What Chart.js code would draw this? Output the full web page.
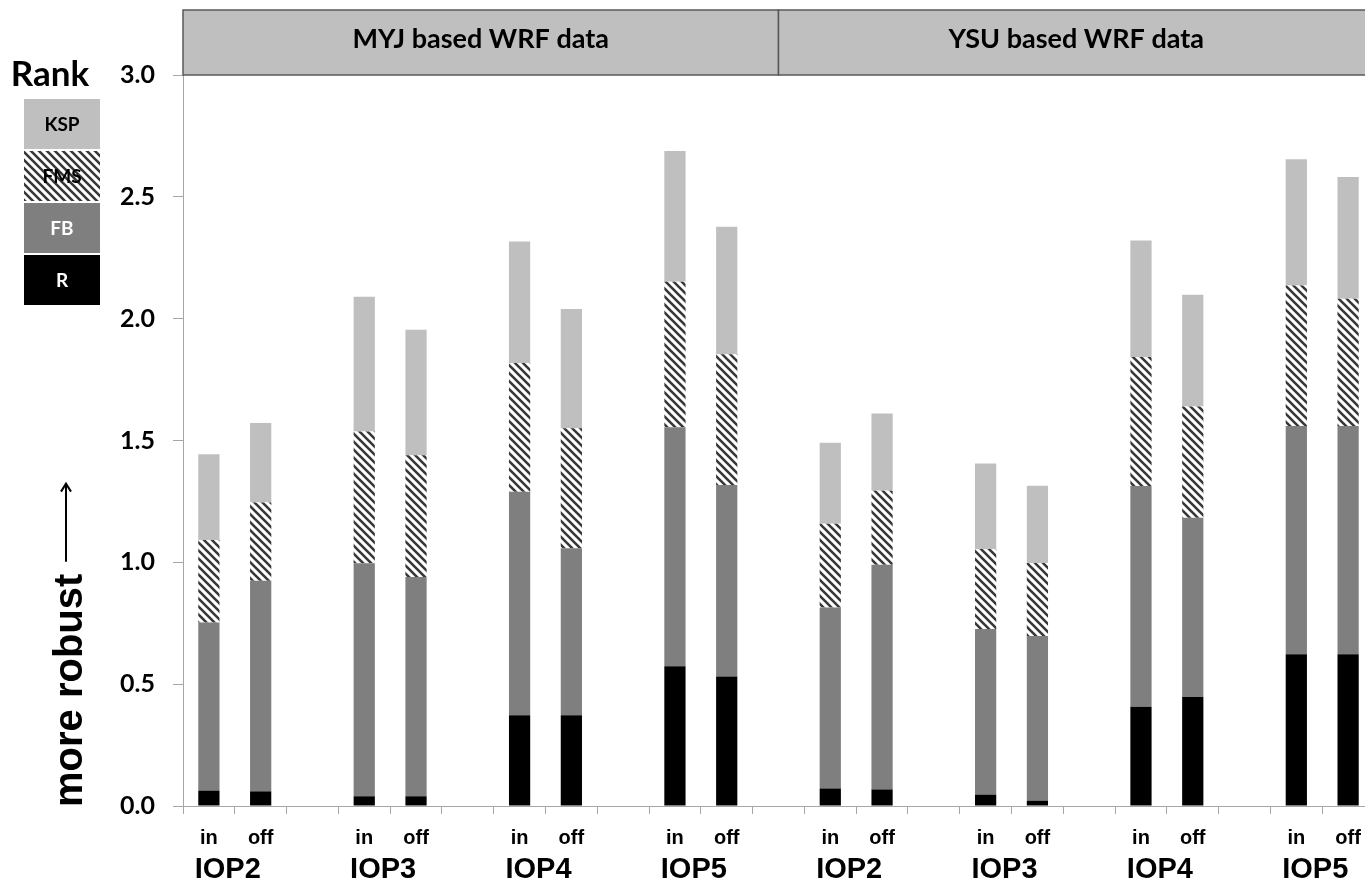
<!DOCTYPE html>
<html>
<head>
<meta charset="utf-8">
<script src="https://cdn.jsdelivr.net/npm/chart.js@4"></script>
<style>
  html, body { margin: 0; padding: 0; background: #fff; overflow: hidden; }
  canvas { display: block; }
</style>
</head>
<body>
<canvas id="rankChart" width="1374" height="884"></canvas>
<script>
// categories: in / off per IOP, blank slot between groups
const categories = ['in', 'off', '', 'in', 'off', '', 'in', 'off', '', 'in', 'off', '',
                    'in', 'off', '', 'in', 'off', '', 'in', 'off', '', 'in', 'off'];
const groupLabels = ['IOP2', 'IOP3', 'IOP4', 'IOP5', 'IOP2', 'IOP3', 'IOP4', 'IOP5'];
const panelTitles = ['MYJ based WRF data', 'YSU based WRF data'];

// stacked rank components (bottom to top)
const rValues   = [0.063, 0.060, null, 0.040, 0.040, null, 0.372, 0.372, null, 0.574, 0.531, null,
                   0.072, 0.068, null, 0.047, 0.021, null, 0.407, 0.447, null, 0.623, 0.623];
const fbValues  = [0.690, 0.864, null, 0.956, 0.900, null, 0.918, 0.686, null, 0.980, 0.786, null,
                   0.743, 0.922, null, 0.679, 0.677, null, 0.906, 0.736, null, 0.936, 0.936];
const fmsValues = [0.339, 0.322, null, 0.541, 0.499, null, 0.528, 0.492, null, 0.598, 0.537, null,
                   0.343, 0.304, null, 0.329, 0.299, null, 0.530, 0.457, null, 0.577, 0.523];
const kspValues = [0.352, 0.326, null, 0.553, 0.516, null, 0.499, 0.490, null, 0.536, 0.523, null,
                   0.333, 0.317, null, 0.351, 0.317, null, 0.478, 0.458, null, 0.518, 0.499];

const yMin = 0, yMax = 3, yStep = 0.5;

function makeHatch() {
    const n = 8;
    const c = document.createElement('canvas');
    c.width = n; c.height = n;
    const g = c.getContext('2d');
    g.fillStyle = '#ffffff';
    g.fillRect(0, 0, n, n);
    g.strokeStyle = '#383838';
    g.lineWidth = 2.6;
    g.beginPath();
    g.moveTo(-2, -2); g.lineTo(n + 2, n + 2);
    g.moveTo(-2, n - 2); g.lineTo(2, n + 2);
    g.moveTo(n - 2, -2); g.lineTo(n + 2, 2);
    g.stroke();
    return g.createPattern(c, 'repeat');
}
const hatch = makeHatch();

const colors = { KSP: '#bfbfbf', FMS: hatch, FB: '#7f7f7f', R: '#000000' };
const sans = 'Lato, "Open Sans", sans-serif';
const arial = '"Liberation Sans", Arial, sans-serif';

// headers, group labels, legend and axis title
const decor = {
    id: 'decor',
    afterDraw(chart) {
        const ctx = chart.ctx;
        const area = chart.chartArea;
        const x = chart.scales.x;

        // panel headers
        const split = x.getPixelForValue(11);
        const boxes = [[area.left, split], [split, area.right]];
        ctx.save();
        boxes.forEach((b, i) => {
            ctx.fillStyle = '#bfbfbf';
            ctx.fillRect(b[0], 10, b[1] - b[0], area.top - 10);
            ctx.strokeStyle = '#595959';
            ctx.lineWidth = 1.5;
            ctx.strokeRect(b[0], 10, b[1] - b[0], area.top - 10);
            ctx.fillStyle = '#000';
            ctx.font = 'bold 27px ' + sans;
            ctx.textAlign = 'center';
            ctx.textBaseline = 'alphabetic';
            ctx.fillText(panelTitles[i], (b[0] + b[1]) / 2, 48);
        });

        // IOP group labels
        ctx.font = 'bold 29px ' + arial;
        ctx.textAlign = 'center';
        ctx.textBaseline = 'alphabetic';
        groupLabels.forEach((lab, g) => {
            const cx = (x.getPixelForValue(g * 3) + x.getPixelForValue(g * 3 + 1)) / 2 - 7;
            ctx.fillText(lab, cx, 878);
        });

        // legend
        ctx.font = 'bold 35px ' + sans;
        ctx.fillText('Rank', 50, 86);
        const items = [['KSP', 99, '#000'], ['FMS', 151, '#000'], ['FB', 203, '#fff'], ['R', 255, '#fff']];
        ctx.font = 'bold 19px ' + sans;
        ctx.textBaseline = 'middle';
        items.forEach(it => {
            ctx.fillStyle = colors[it[0]];
            ctx.fillRect(24, it[1], 76, 50);
            ctx.fillStyle = it[2];
            ctx.fillText(it[0], 62, it[1] + 26);
        });

        // y title with arrow
        ctx.translate(82, 807);
        ctx.rotate(-Math.PI / 2);
        ctx.fillStyle = '#000';
        ctx.font = 'bold 40px ' + arial;
        ctx.textAlign = 'left';
        ctx.textBaseline = 'alphabetic';
        ctx.fillText('more robust', 0, 0);
        const w = ctx.measureText('more robust').width;
        ctx.strokeStyle = '#000';
        ctx.lineWidth = 2;
        ctx.beginPath();
        ctx.moveTo(w + 12, -16);
        ctx.lineTo(w + 90, -16);
        ctx.moveTo(w + 82, -21);
        ctx.lineTo(w + 90, -16);
        ctx.lineTo(w + 82, -11);
        ctx.stroke();
        ctx.restore();
    }
};

document.addEventListener('DOMContentLoaded', function() {
    const mk = (label, data) => ({
        label: label,
        data: data,
        backgroundColor: colors[label],
        borderWidth: 0,
        barPercentage: 0.41,
        categoryPercentage: 1.0
    });

    new Chart(document.getElementById('rankChart'), {
        type: 'bar',
        data: {
            labels: categories,
            datasets: [mk('R', rValues), mk('FB', fbValues), mk('FMS', fmsValues), mk('KSP', kspValues)]
        },
        options: {
            responsive: false,
            animation: false,
            layout: { padding: { top: 75, right: 0, left: 0, bottom: 0 } },
            plugins: {
                legend: { display: false },
                tooltip: { enabled: false }
            },
            scales: {
                x: {
                    stacked: true,
                    offset: true,
                    afterFit: function(s) { s.height = 78; },
                    grid: { offset: true, drawOnChartArea: false, drawTicks: true, tickLength: 8, color: '#a6a6a6' },
                    border: { color: '#a6a6a6', width: 1 },
                    ticks: {
                        autoSkip: false,
                        maxRotation: 0,
                        padding: 12,
                        color: '#000',
                        font: { family: arial, size: 20, weight: 'bold' }
                    }
                },
                y: {
                    stacked: true,
                    min: yMin,
                    max: yMax,
                    afterFit: function(s) { s.width = 183; },
                    grid: { drawOnChartArea: false, drawTicks: true, tickLength: 10, color: '#a6a6a6' },
                    border: { color: '#a6a6a6', width: 1 },
                    ticks: {
                        stepSize: yStep,
                        padding: 18,
                        color: '#000',
                        font: { family: sans, size: 25, weight: 'bold' },
                        callback: function(v) { return v.toFixed(1); }
                    }
                }
            }
        },
        plugins: [decor]
    });
});
</script>
</body>
</html>
